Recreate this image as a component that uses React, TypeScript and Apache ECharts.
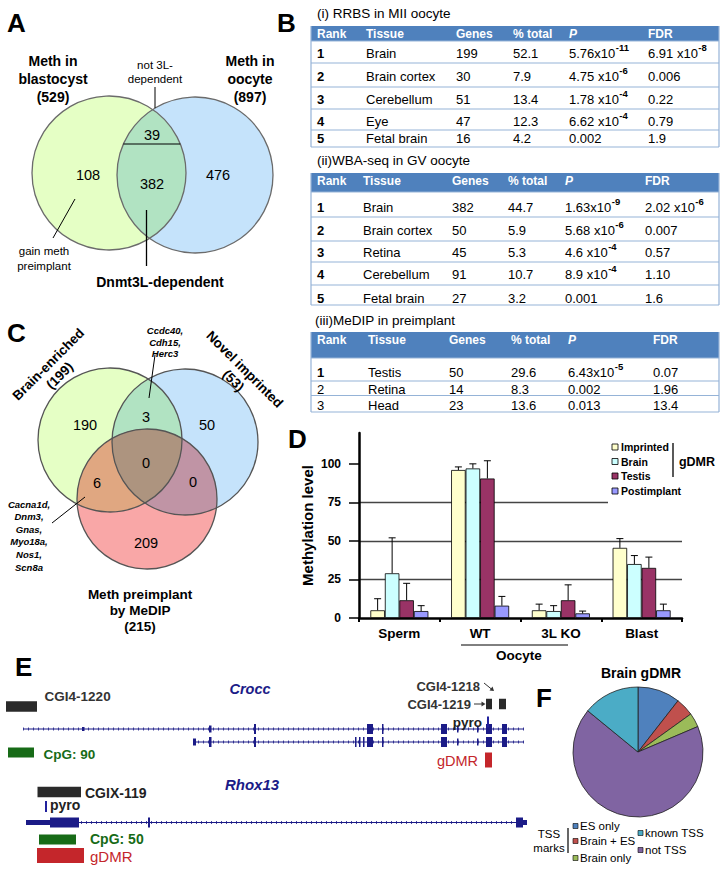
import React, { useEffect, useRef } from "react";
import * as echarts from "echarts";

const FONT = "'Liberation Sans', Arial, Helvetica, sans-serif";

// ---------------- Panel A : Venn (blastocyst vs oocyte) ----------------
const vennAGroups = ["Meth in\nblastocyst\n(529)", "Meth in\noocyte\n(897)"];
const vennACounts = [108, 39, 382, 476]; // blast only, not 3L-dependent, Dnmt3L-dependent, oocyte only

// ---------------- Panel B : enrichment tables ----------------
const tableHeader = ["Rank", "Tissue", "Genes", "% total", "P", "FDR"];
const rrbsTitle = "(i) RRBS in MII oocyte";
const rrbsRows = [
  ["1", "Brain", "199", "52.1", "5.76x10^-11", "6.91 x10^-8"],
  ["2", "Brain cortex", "30", "7.9", "4.75 x10^-6", "0.006"],
  ["3", "Cerebellum", "51", "13.4", "1.78 x10^-4", "0.22"],
  ["4", "Eye", "47", "12.3", "6.62 x10^-4", "0.79"],
  ["5", "Fetal brain", "16", "4.2", "0.002", "1.9"],
];
const wbaTitle = "(ii)WBA-seq in GV oocyte";
const wbaRows = [
  ["1", "Brain", "382", "44.7", "1.63x10^-9", "2.02 x10^-6"],
  ["2", "Brain cortex", "50", "5.9", "5.68 x10^-6", "0.007"],
  ["3", "Retina", "45", "5.3", "4.6 x10^-4", "0.57"],
  ["4", "Cerebellum", "91", "10.7", "8.9 x10^-4", "1.10"],
  ["5", "Fetal brain", "27", "3.2", "0.001", "1.6"],
];
const medipTitle = "(iii)MeDIP in preimplant";
const medipRows = [
  ["1", "Testis", "50", "29.6", "6.43x10^-5", "0.07"],
  ["2", "Retina", "14", "8.3", "0.002", "1.96"],
  ["3", "Head", "23", "13.6", "0.013", "13.4"],
];

// ---------------- Panel C : three-way Venn ----------------
const vennCGroups = ["Brain-enriched\n(199)", "Novel imprinted\n(53)", "Meth preimplant\nby MeDIP\n(215)"];
const vennCCounts = [190, 3, 50, 0, 6, 0, 209]; // B only, B∩N, N only, all, B∩M, N∩M, M only
const vennCGenesTop = ["Ccdc40,", "Cdh15,", "Herc3"];
const vennCGenesLeft = ["Cacna1d,", "Dnm3,", "Gnas,", "Myo18a,", "Nos1,", "Scn8a"];

// ---------------- Panel D : methylation bar chart ----------------
const bisCategories = ["Sperm", "WT", "3L KO", "Blast"];
const bisSeriesNames = ["Imprinted", "Brain", "Testis", "Postimplant"];
const imprintedMeth = [5, 96, 5, 45.5];
const imprintedErr = [7.5, 2, 4, 6];
const brainMeth = [29, 97, 4.5, 35];
const brainErr = [23, 3, 3.5, 5.5];
const testisMeth = [11.5, 90.5, 11.5, 32.5];
const testisErr = [11, 11.5, 10, 7];
const postimplantMeth = [4.5, 8, 3, 5];
const postimplantErr = [3.5, 6, 1.5, 4];
const yTickValues = [0, 25, 50, 75, 100];

// ---------------- Panel E : genome tracks (track coordinates) ----------------
const eTranscripts = [
  [23, 524, 729],
  [193, 524, 742],
  [26, 527, 822.5],
];
const eKinds = ["exon", "small", "mid", "utr", "cgi", "pyro", "cpg", "dmr"];
const eFeatures = [
  // Crocc transcript 1
  [82, 84.5, 729, 1], [209, 211.5, 729, 2], [254, 256, 729, 0], [367, 373, 729, 0], [382, 383.5, 729, 0],
  [441, 447, 729, 0], [457, 458.5, 729, 2], [477, 478.5, 729, 2], [486, 492, 729, 0], [502, 507, 729, 0],
  // Crocc transcript 2
  [193, 196, 742, 2], [209, 211.5, 742, 0], [254, 256, 742, 0], [355, 356.5, 742, 0], [359, 360.5, 742, 0],
  [363, 364.5, 742, 0], [367, 373, 742, 0], [382, 383.5, 742, 0], [441, 447, 742, 0], [457, 458.5, 742, 2],
  [477, 478.5, 742, 2], [486, 492, 742, 0], [502, 507, 742, 0],
  // Rhox13
  [26, 50, 822.5, 3], [50, 79, 822.5, 0], [148, 150, 822.5, 0], [516, 523, 822.5, 0], [523, 527, 822.5, 3],
  // CGIs
  [6, 37, 706.5, 4], [486, 492, 704, 4], [499, 506, 704, 4], [37.5, 81, 792, 4],
  // pyro assays
  [487, 489, 722, 5], [45, 47, 806.5, 5],
  // CpG islands
  [8, 34, 752.5, 6], [39, 76, 839.5, 6],
  // gDMRs
  [485, 492, 760, 7], [37, 84, 855.5, 7],
];

// ---------------- Panel F : pie ----------------
const pieNames = ["ES only", "Brain + ES", "Brain only", "not TSS", "known TSS"];
const pieCounts = [21, 9, 7, 134, 28];

// ---------------- styles ----------------
const bisColors = ["#FFFFCC", "#CCFFFF", "#993366", "#9999FF"];
const pieColors = ["#4F81BD", "#C0504D", "#9BBB59", "#8064A2", "#4BACC6"];
const NAVY = "#1b1b87";
const GREEN_E = "#176b17";
const RED_E = "#c4262b";
const CGI_C = "#2a2a2a";
const eKindStyle: Record<string, { h: number; c: string }> = {
  exon: { h: 10, c: NAVY },
  small: { h: 4, c: NAVY },
  mid: { h: 7, c: NAVY },
  utr: { h: 5, c: NAVY },
  cgi: { h: 10.5, c: CGI_C },
  pyro: { h: 11, c: "#22229e" },
  cpg: { h: 10, c: GREEN_E },
  dmr: { h: 15, c: RED_E },
};

let _ctx: CanvasRenderingContext2D | null = null;
function measure(text: string, size: number, weight = "normal") {
  if (!_ctx) _ctx = document.createElement("canvas").getContext("2d");
  if (!_ctx) return text.length * size * 0.55;
  _ctx.font = `${weight} ${size}px ${FONT}`;
  return _ctx.measureText(text).width;
}

type TOpt = {
  size?: number; weight?: string; italic?: boolean; fill?: string; align?: string; va?: string;
  rot?: number; lh?: number; z?: number;
};
function txt(x: number, y: number, text: string, o: TOpt = {}) {
  const align = o.align || "center";
  const va = o.va || "middle";
  return {
    type: "text", x, y, rotation: o.rot || 0, z: o.z ?? 20, silent: true,
    style: {
      text, x: 0, y: 0, fill: o.fill || "#000",
      fontSize: o.size || 12, fontWeight: o.weight || "normal", fontStyle: o.italic ? "italic" : "normal",
      fontFamily: FONT, align, textAlign: align, verticalAlign: va, textVerticalAlign: va,
      lineHeight: o.lh,
    },
  };
}
function ln(x1: number, y1: number, x2: number, y2: number, stroke = "#000", w = 1, z = 20) {
  return { type: "line", z, silent: true, shape: { x1, y1, x2, y2 }, style: { stroke, lineWidth: w } };
}
function rc(x: number, y: number, w: number, h: number, fill: string, stroke?: string, lw = 1, z = 20) {
  return { type: "rect", z, silent: true, shape: { x, y, width: w, height: h }, style: { fill, stroke: stroke || "none", lineWidth: lw } };
}

function circleRegion(cs: number[][]): number[][] {
  const inside = (x: number, y: number, c: number[]) => (x - c[0]) ** 2 + (y - c[1]) ** 2 <= c[2] * c[2] + 0.01;
  const pts: number[][] = [];
  cs.forEach((c, i) => {
    const N = 900;
    for (let k = 0; k < N; k++) {
      const a = (k / N) * Math.PI * 2;
      const x = c[0] + c[2] * Math.cos(a);
      const y = c[1] + c[2] * Math.sin(a);
      if (cs.every((o, j) => j === i || inside(x, y, o))) pts.push([x, y]);
    }
  });
  for (let i = 0; i < cs.length; i++)
    for (let j = i + 1; j < cs.length; j++) {
      const [x1, y1, r1] = cs[i];
      const [x2, y2, r2] = cs[j];
      const dx = x2 - x1, dy = y2 - y1, d = Math.hypot(dx, dy);
      const a = (d * d + r1 * r1 - r2 * r2) / (2 * d);
      const h = Math.sqrt(Math.max(0, r1 * r1 - a * a));
      const mx = x1 + (a * dx) / d, my = y1 + (a * dy) / d;
      for (const s of [1, -1]) {
        const px = mx - (s * h * dy) / d, py = my + (s * h * dx) / d;
        if (cs.every((o, k) => k === i || k === j || inside(px, py, o))) pts.push([px, py]);
      }
    }
  const cx = pts.reduce((s, p) => s + p[0], 0) / pts.length;
  const cy = pts.reduce((s, p) => s + p[1], 0) / pts.length;
  pts.sort((p, q) => Math.atan2(p[1] - cy, p[0] - cx) - Math.atan2(q[1] - cy, q[0] - cx));
  return pts;
}
function circ(c: number[], fill: string, stroke = "none", lw = 1, z = 5) {
  return { type: "circle", z, silent: true, shape: { cx: c[0], cy: c[1], r: c[2] }, style: { fill, stroke, lineWidth: lw } };
}
function poly(points: number[][], fill: string, z = 6) {
  return { type: "polygon", z, silent: true, shape: { points }, style: { fill } };
}

type TableLayout = {
  x0: number; x1: number; titleX: number; titleY: number; headTop: number; headBot: number; headY: number;
  colX: number[]; lines: number[]; rowY: number[]; boldRank: boolean[];
};
function buildTable(els: any[], title: string, rows: string[][], L: TableLayout) {
  els.push(txt(L.titleX, L.titleY, title, { size: 13.5, align: "left" }));
  els.push(rc(L.x0, L.headTop, L.x1 - L.x0, L.headBot - L.headTop, "#4F81BD"));
  tableHeader.forEach((h, i) =>
    els.push(txt(L.colX[i], L.headY, h, { size: 12, weight: "bold", italic: h === "P", fill: "#fff", align: "left" }))
  );
  const border = "#95B3D7";
  L.lines.forEach((y) => els.push(ln(L.x0, y, L.x1, y, border, 1.2)));
  const bottom = L.lines[L.lines.length - 1];
  els.push(ln(L.x0, L.headTop, L.x0, bottom, border, 1.2));
  els.push(ln(L.x1, L.headTop, L.x1, bottom, border, 1.2));
  rows.forEach((row, r) => {
    const y = L.rowY[r];
    row.forEach((cell, c) => {
      const x = L.colX[c];
      const weight = c === 0 && L.boldRank[r] ? "bold" : "normal";
      if (cell.includes("^")) {
        const [base, exp] = cell.split("^");
        const w = measure(base, 13, "normal");
        els.push(txt(x, y, base, { size: 13, align: "left" }));
        els.push(txt(x + w + 0.5, y - 6, exp, { size: 9.5, weight: "bold", align: "left" }));
      } else {
        els.push(txt(x, y, cell, { size: 13, weight, align: "left" }));
      }
    });
  });
}

function buildOption() {
  const els: any[] = [];
  const big = { size: 26, weight: "bold", align: "left" };
  els.push(txt(7, 23, "A", big), txt(277, 23, "B", big), txt(7, 333, "C", big), txt(288, 439, "D", big));
  els.push(txt(15, 667, "E", big), txt(536, 698, "F", big));

  // ---- Panel A
  const A1 = [109, 173, 77];
  const A2 = [195, 175, 78];
  els.push(circ(A1, "#E5FFC5"), circ(A2, "#C5E3FB"));
  els.push(poly(circleRegion([A1, A2]), "#B1E3C2"));
  els.push(circ(A1, "none", "#6b6b6b", 1.3, 8), circ(A2, "none", "#6b6b6b", 1.3, 8));
  const hy = 144;
  const hx1 = A2[0] - Math.sqrt(A2[2] ** 2 - (hy - A2[1]) ** 2);
  const hx2 = A1[0] + Math.sqrt(A1[2] ** 2 - (hy - A1[1]) ** 2);
  els.push(ln(hx1, hy, hx2, hy, "#000", 1.2));
  els.push(txt(53, 79, vennAGroups[0], { size: 14, weight: "bold", lh: 18 }));
  els.push(txt(250, 79, vennAGroups[1], { size: 14, weight: "bold", lh: 18 }));
  els.push(txt(155, 72, "not 3L-\ndependent", { size: 11.5, lh: 14 }));
  els.push(ln(155, 87, 155, 108, "#000", 1));
  els.push(txt(88, 175, String(vennACounts[0]), { size: 14.5 }));
  els.push(txt(152, 135, String(vennACounts[1]), { size: 14.5 }));
  els.push(txt(152, 184, String(vennACounts[2]), { size: 14.5 }));
  els.push(txt(218, 175, String(vennACounts[3]), { size: 14.5 }));
  els.push(ln(75, 199, 53, 238, "#000", 1));
  els.push(txt(44, 258, "gain meth\npreimplant", { size: 11.5, lh: 15 }));
  els.push(ln(146.5, 210, 146.5, 266, "#000", 1.3));
  els.push(txt(160, 282, "Dnmt3L-dependent", { size: 14, weight: "bold" }));

  // ---- Panel B
  buildTable(els, rrbsTitle, rrbsRows, {
    x0: 311, x1: 719, titleX: 317, titleY: 13, headTop: 26, headBot: 41, headY: 33.5,
    colX: [317, 366, 456, 513, 569, 648], lines: [41, 63, 87, 109, 130, 147], rowY: [53, 76, 99, 121, 138.5],
    boldRank: [true, true, true, true, true],
  });
  buildTable(els, wbaTitle, wbaRows, {
    x0: 311, x1: 719, titleX: 317, titleY: 160, headTop: 173, headBot: 192, headY: 180.5,
    colX: [317, 363, 452, 508, 565, 645], lines: [192, 217, 241, 262, 285, 305], rowY: [207, 230, 252, 274, 298],
    boldRank: [true, true, true, true, true],
  });
  buildTable(els, medipTitle, medipRows, {
    x0: 311, x1: 719, titleX: 315, titleY: 320, headTop: 332, headBot: 358, headY: 339.5,
    colX: [317, 368, 449, 511, 568, 653], lines: [358, 381, 395.5, 412], rowY: [372, 389, 405],
    boldRank: [true, false, false],
  });

  // ---- Panel C
  const CL = [110, 440, 72];
  const CR = [185, 442, 73];
  const CB = [147, 499, 70];
  els.push(circ(CL, "#E5FFC5"), circ(CR, "#C5E3FB"), circ(CB, "#F9A7A7"));
  els.push(poly(circleRegion([CL, CR]), "#B1E3C2"));
  els.push(poly(circleRegion([CL, CB]), "#E0A781"));
  els.push(poly(circleRegion([CR, CB]), "#C094A5"));
  els.push(poly(circleRegion([CL, CR, CB]), "#AD947F", 7));
  [CL, CR, CB].forEach((c) => els.push(circ(c, "none", "#555", 1.3, 8)));
  els.push(txt(54, 370, vennCGroups[0], { size: 13.5, weight: "bold", rot: Math.PI / 4, lh: 16 }));
  els.push(txt(239, 375, vennCGroups[1], { size: 13.5, weight: "bold", rot: -Math.PI / 4, lh: 16 }));
  els.push(txt(140, 610, vennCGroups[2], { size: 13.5, weight: "bold", lh: 16 }));
  const cPos = [[85, 425], [146, 417], [207, 425], [146, 463], [97, 483], [193, 482], [146, 543]];
  vennCCounts.forEach((v, i) => els.push(txt(cPos[i][0], cPos[i][1], String(v), { size: 14.5 })));
  els.push(txt(165, 342, vennCGenesTop.join("\n"), { size: 9.5, weight: "bold", italic: true, lh: 11.5 }));
  els.push(ln(155, 355, 149, 398, "#000", 1));
  els.push(txt(29, 535.5, vennCGenesLeft.join("\n"), { size: 9.5, weight: "bold", italic: true, lh: 12.6 }));
  els.push(ln(52, 523, 85, 497, "#000", 1));

  // ---- Panel D annotations (legend, oocyte bracket)
  els.push(rc(608, 437, 76, 69, "#fff", undefined, 0, 40));
  const legY = [447, 461.5, 476, 491];
  bisSeriesNames.forEach((n, i) => {
    els.push(rc(612, legY[i] - 3, 6, 6, bisColors[i], "#000", 0.8, 41));
    els.push(txt(621, legY[i], n, { size: 10.5, weight: "bold", align: "left", z: 41 }));
  });
  els.push(ln(673, 443, 673, 477, "#000", 1.3, 41));
  els.push(txt(697, 462, "gDMR", { size: 12.5, weight: "bold", z: 41 }));
  els.push(ln(461, 645, 568, 645, "#000", 1));
  els.push(txt(519, 655, "Oocyte", { size: 13.5, weight: "bold" }));

  // ---- Panel E labels
  els.push(txt(44.6, 696, "CGI4-1220", { size: 13.5, weight: "bold", align: "left", fill: "#333" }));
  els.push(txt(250, 689, "Crocc", { size: 14.5, weight: "bold", italic: true, fill: NAVY }));
  els.push(txt(480, 686, "CGI4-1218", { size: 13, weight: "bold", align: "right", fill: "#333" }));
  els.push(ln(484, 683, 492, 689.5, "#333", 1));
  els.push({ type: "polygon", z: 20, silent: true, shape: { points: [[494, 691], [489.5, 690.5], [492.5, 686.5]] }, style: { fill: "#333" } });
  els.push(txt(471, 704, "CGI4-1219", { size: 13, weight: "bold", align: "right", fill: "#333" }));
  els.push(ln(474, 704, 482, 704, "#333", 1));
  els.push({ type: "polygon", z: 20, silent: true, shape: { points: [[485.5, 704], [481.5, 701.5], [481.5, 706.5]] }, style: { fill: "#333" } });
  els.push(txt(482, 722, "pyro", { size: 13.5, weight: "bold", align: "right", fill: "#222" }));
  els.push(txt(43.6, 754, "CpG: 90", { size: 13.5, weight: "bold", align: "left", fill: GREEN_E }));
  els.push(txt(478, 761, "gDMR", { size: 14.5, align: "right", fill: RED_E }));
  els.push(txt(252, 784, "Rhox13", { size: 15, weight: "bold", italic: true, fill: NAVY }));
  els.push(txt(85, 793, "CGIX-119", { size: 14, weight: "bold", align: "left", fill: "#222" }));
  els.push(txt(50, 805, "pyro", { size: 14, weight: "bold", align: "left", fill: "#222" }));
  els.push(txt(90, 839, "CpG: 50", { size: 14, weight: "bold", align: "left", fill: GREEN_E }));
  els.push(txt(90, 856, "gDMR", { size: 15, align: "left", fill: RED_E }));

  // ---- Panel F labels & legend
  els.push(txt(641, 673, "Brain gDMR", { size: 14, weight: "bold" }));
  els.push(txt(549, 841, "TSS\nmarks", { size: 11.5, lh: 14.5 }));
  els.push(ln(568, 828, 568, 853, "#000", 1.2));
  const pieLeg = [[573, 826], [573, 841], [573, 858], [638, 850], [638, 833]];
  pieNames.forEach((n, i) => {
    els.push(rc(pieLeg[i][0], pieLeg[i][1] - 2.5, 5, 5, pieColors[i], "#000", 0.6));
    els.push(txt(pieLeg[i][0] + 7, pieLeg[i][1], n, { size: 11.5, align: "left" }));
  });

  const barData = [imprintedMeth, brainMeth, testisMeth, postimplantMeth];
  const errData = [imprintedErr, brainErr, testisErr, postimplantErr];
  const BW = 14.5;
  const bars = bisSeriesNames.map((n, i) => ({
    type: "bar", name: n, xAxisIndex: 0, yAxisIndex: 0, data: barData[i], barWidth: BW, barGap: "0%",
    itemStyle: { color: bisColors[i], borderColor: "#000", borderWidth: 0.8 }, emphasis: { disabled: true }, z: 2,
  }));
  const errs = bisSeriesNames.map((n, i) => ({
    type: "custom", name: n + " err", xAxisIndex: 0, yAxisIndex: 0, z: 3, silent: true,
    data: bisCategories.map((_, k) => [k, barData[i][k], barData[i][k] + errData[i][k]]),
    encode: { x: 0, y: 2 },
    renderItem: (params: any, api: any) => {
      const k = api.value(0);
      const base = api.coord([k, api.value(1)]);
      const top = api.coord([k, api.value(2)]);
      const cx = base[0] - 2 * BW + BW * (i + 0.5);
      return {
        type: "group",
        children: [
          { type: "line", shape: { x1: cx, y1: base[1], x2: cx, y2: top[1] }, style: { stroke: "#000", lineWidth: 1 } },
          { type: "line", shape: { x1: cx - 3.5, y1: top[1], x2: cx + 3.5, y2: top[1] }, style: { stroke: "#000", lineWidth: 1 } },
        ],
      };
    },
  }));

  const introns = {
    type: "custom", xAxisIndex: 1, yAxisIndex: 1, silent: true, z: 2,
    data: eTranscripts, encode: { x: [0, 1], y: 2 },
    renderItem: (params: any, api: any) => {
      const p0 = api.coord([api.value(0), api.value(2)]);
      const p1 = api.coord([api.value(1), api.value(2)]);
      return {
        type: "group",
        children: [
          { type: "line", shape: { x1: p0[0], y1: p0[1], x2: p1[0], y2: p1[1] }, style: { stroke: NAVY, lineWidth: 1 } },
          { type: "line", shape: { x1: p0[0], y1: p0[1], x2: p1[0], y2: p1[1] }, style: { stroke: NAVY, lineWidth: 3, lineDash: [1, 4], opacity: 0.8 } },
        ],
      };
    },
  };
  const features = {
    type: "custom", xAxisIndex: 1, yAxisIndex: 1, silent: true, z: 3,
    data: eFeatures.map((f) => [f[0], f[1], f[2]]), encode: { x: [0, 1], y: 2 },
    renderItem: (params: any, api: any) => {
      const st = eKindStyle[eKinds[eFeatures[params.dataIndex][3]]];
      const p0 = api.coord([api.value(0), api.value(2)]);
      const p1 = api.coord([api.value(1), api.value(2)]);
      return { type: "rect", shape: { x: p0[0], y: p0[1] - st.h / 2, width: Math.max(1.5, p1[0] - p0[0]), height: st.h }, style: { fill: st.c } };
    },
  };

  const pie = {
    type: "pie", center: [638, 752], radius: 65, startAngle: 90, clockwise: true, silent: true,
    label: { show: false }, labelLine: { show: false }, emphasis: { disabled: true },
    itemStyle: { borderColor: "#222", borderWidth: 0.8 },
    data: pieNames.map((n, i) => ({ name: n, value: pieCounts[i], itemStyle: { color: pieColors[i] } })),
  };

  return {
    animation: false,
    grid: [
      { left: 359, top: 433, right: 46, bottom: 251, outerBoundsMode: "none" },
      { left: 0, top: 679, width: 530, height: 190, outerBoundsMode: "none" },
    ],
    xAxis: [
      {
        type: "category", gridIndex: 0, data: bisCategories,
        axisLine: { lineStyle: { color: "#000", width: 2.5 } },
        axisTick: { show: true, length: 4, lineStyle: { color: "#000", width: 2 } },
        axisLabel: { fontSize: 13.5, fontWeight: "bold", color: "#000", margin: 8, fontFamily: FONT },
      },
      { type: "value", gridIndex: 1, min: 0, max: 530, show: false },
    ],
    yAxis: [
      {
        type: "value", gridIndex: 0, min: 0, max: 120, interval: 25,
        name: "Methylation level", nameLocation: "middle", nameGap: 44, nameRotate: 90,
        nameTextStyle: { fontSize: 15, fontWeight: "bold", color: "#000", fontFamily: FONT },
        axisLine: { show: true, lineStyle: { color: "#000", width: 2.5 } },
        axisTick: { show: true, length: 10, customValues: yTickValues, lineStyle: { color: "#000", width: 1.5 } },
        axisLabel: {
          fontSize: 12, fontWeight: "bold", color: "#000", margin: 18, fontFamily: FONT,
          customValues: yTickValues, formatter: (v: number) => (v > 100 ? "" : String(v)),
        },
        splitLine: { show: true, showMinLine: false, showMaxLine: false, lineStyle: { color: "#444", width: 1.3 } },
      },
      { type: "value", gridIndex: 1, min: 679, max: 869, inverse: true, show: false },
    ],
    series: [...bars, ...errs, introns, features, pie],
    graphic: { elements: els },
  };
}

export default function App() {
  const ref = useRef<HTMLDivElement>(null);
  useEffect(() => {
    document.body.style.margin = "0";
    const chart = echarts.init(ref.current as HTMLDivElement, undefined, { renderer: "svg", width: 728, height: 869 });
    chart.setOption(buildOption() as any);
    return () => chart.dispose();
  }, []);
  return <div ref={ref} style={{ width: 728, height: 869 }} />;
}
